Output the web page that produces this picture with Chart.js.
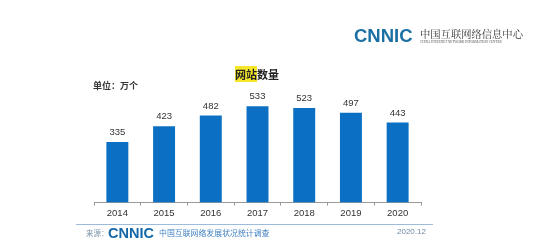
<!DOCTYPE html>
<html>
<head>
<meta charset="utf-8">
<script src="https://cdn.jsdelivr.net/npm/chart.js@4.4.0/dist/chart.umd.min.js"></script>
<style>
  html, body { margin: 0; padding: 0; background: #fff; }
  #wrap { position: relative; width: 549px; height: 249px; overflow: hidden; font-family: "Noto Sans CJK SC", "Noto Sans", sans-serif; }
  #chart { position: absolute; left: 0; top: 0; }
  .abs { position: absolute; white-space: nowrap; line-height: 1; }
  #logo { left: 354px; top: 27px; font-family: "Liberation Sans", Arial, sans-serif; font-weight: bold; font-size: 18.5px; color: #1b6fa3; }
  #logoCn { left: 420px; top: 29px; font-family: "Noto Serif CJK SC", "Noto Sans CJK SC", serif; font-size: 10.3px; color: #333; }
  #logoEn { left: 420px; top: 40.5px; font-family: "Liberation Serif", serif; font-size: 3.3px; color: #555; }
  #title { left: 235px; top: 69px; font-size: 11px; font-weight: bold; color: #222; }
  #title span { background: #f5e62a; }
  #unit { left: 93px; top: 81px; font-size: 9px; font-weight: bold; color: #333; }
  #rule { left: 76px; top: 224px; width: 357px; height: 1px; background: #9dbcdb; }
  #src { left: 86px; top: 229px; font-size: 7.5px; color: #7d93a8; }
  #srcLogo { left: 108px; top: 226px; font-family: "Liberation Sans", Arial, sans-serif; font-weight: bold; font-size: 14.5px; color: #1367a8; }
  #srcCn { left: 159px; top: 229px; font-size: 7.9px; color: #3f7fc0; }
  #date { left: 397px; top: 228px; font-size: 8px; color: #6f89a3; font-family: "Liberation Sans", Arial, sans-serif; }
</style>
</head>
<body>
<div id="wrap">
  <canvas id="chart" width="549" height="249"></canvas>
  <div class="abs" id="logo">CNNIC</div>
  <div class="abs" id="logoCn">中国互联网络信息中心</div>
  <div class="abs" id="logoEn">CHINA INTERNET NETWORK INFORMATION CENTER</div>
  <div class="abs" id="title"><span>网站</span>数量</div>
  <div class="abs" id="unit">单位：万个</div>
  <div class="abs" id="rule"></div>
  <div class="abs" id="src">来源：</div>
  <div class="abs" id="srcLogo">CNNIC</div>
  <div class="abs" id="srcCn">中国互联网络发展状况统计调查</div>
  <div class="abs" id="date">2020.12</div>
</div>
<script>
// Number of websites (10k units)
const years = ['2014', '2015', '2016', '2017', '2018', '2019', '2020'];
const siteCounts = [335, 423, 482, 533, 523, 497, 443];

// draws the value over each bar
const valueLabels = {
    id: 'valueLabels',
    afterDatasetsDraw(chart) {
        const ctx = chart.ctx;
        const meta = chart.getDatasetMeta(0);
        ctx.save();
        ctx.font = '9.5px "Liberation Sans", Arial, sans-serif';
        ctx.fillStyle = '#333';
        ctx.textAlign = 'center';
        ctx.textBaseline = 'middle';
        meta.data.forEach(function(bar, i) {
            ctx.fillText(siteCounts[i], bar.x, bar.y - 9.5);
        });
        ctx.restore();
    }
};

const ctx = document.getElementById('chart').getContext('2d');
new Chart(ctx, {
    type: 'bar',
    data: {
        labels: years,
        datasets: [{
            data: siteCounts,
            backgroundColor: '#0b70c3',
            barPercentage: 0.47,
            categoryPercentage: 1
        }]
    },
    options: {
        responsive: false,
        animation: false,
        layout: { padding: { left: 94, right: 128, top: 96, bottom: 28 } },
        plugins: {
            legend: { display: false },
            tooltip: { enabled: false }
        },
        scales: {
            x: {
                ticks: {
                    color: '#333',
                    font: { size: 9.5, family: '"Liberation Sans", Arial, sans-serif' },
                    padding: 2
                },
                grid: {
                    drawOnChartArea: false,
                    drawTicks: true,
                    tickLength: 3,
                    color: '#999'
                },
                border: { display: true, color: '#999' }
            },
            y: {
                display: false,
                min: 0,
                max: 590
            }
        }
    },
    plugins: [valueLabels]
});
</script>
</body>
</html>
